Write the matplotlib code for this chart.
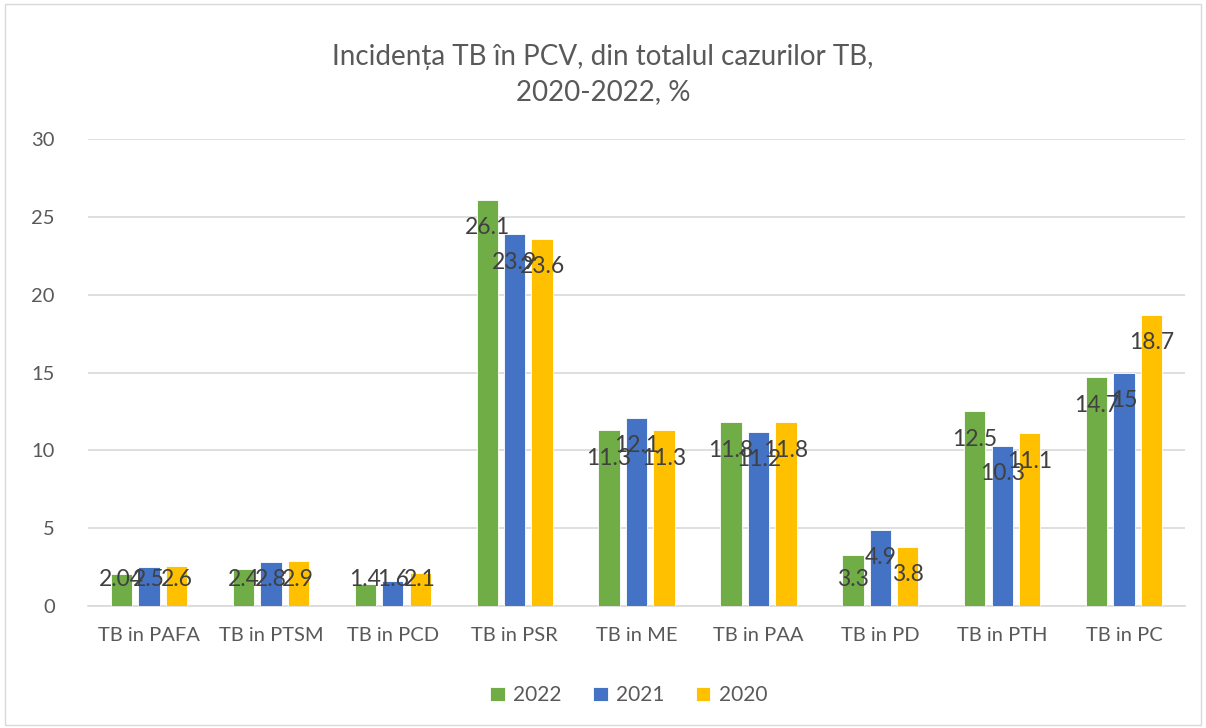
import matplotlib.pyplot as plt
import numpy as np
from matplotlib.patches import Rectangle

plt.rcParams['font.family'] = ['Lato', 'DejaVu Sans']

categories = ['TB in PAFA', 'TB in PTSM', 'TB in PCD', 'TB in PSR', 'TB in ME',
              'TB in PAA', 'TB in PD', 'TB in PTH', 'TB in PC']
years = ['2022', '2021', '2020']
v2022 = [2.04, 2.4, 1.4, 26.1, 11.3, 11.8, 3.3, 12.5, 14.7]
v2021 = [2.5, 2.8, 1.6, 23.9, 12.1, 11.2, 4.9, 10.3, 15]
v2020 = [2.6, 2.9, 2.1, 23.6, 11.3, 11.8, 3.8, 11.1, 18.7]
series = [v2022, v2021, v2020]
colors = ['#70AD47', '#4472C4', '#FFC000']

fig = plt.figure(figsize=(12.06, 7.28), dpi=100)
ax = fig.add_axes([0.073, 0.1676, 0.9096, 0.6414])

x = np.arange(len(categories))
w = 0.175
offsets = [-0.225, 0, 0.225]
for vals, col, off, yr in zip(series, colors, offsets, years):
    ax.bar(x + off, vals, width=w, color=col, label=yr, zorder=3,
           edgecolor='white', linewidth=0.6)
    # labels sit just inside the top of each bar, like Excel's inside-end
    for xi, v in zip(x, vals):
        ax.text(xi + off, max(v - 1.8, 1.7), f'{v:g}', ha='center', va='center',
                fontsize=16.5, color='#404040', zorder=4)

ax.set_ylim(0, 30)
ax.set_yticks(range(0, 31, 5))
ax.set_xlim(-0.5, len(categories) - 0.5)
ax.set_xticks(x)
ax.set_xticklabels(categories)
ax.tick_params(axis='both', length=0, labelsize=14.5, colors='#595959')
ax.tick_params(axis='x', pad=15)
ax.tick_params(axis='y', pad=24)
ax.grid(axis='y', color='#D9D9D9', linewidth=1.2, zorder=0)
for s in ['top', 'right', 'left']:
    ax.spines[s].set_visible(False)
ax.spines['bottom'].set_color('#D9D9D9')
ax.spines['bottom'].set_linewidth(1.2)

fig.suptitle('Incidența TB în PCV, din totalul cazurilor TB,\n2020-2022, %',
             y=0.94, fontsize=20, color='#595959', linespacing=1.45)

ax.legend(loc='upper center', bbox_to_anchor=(0.493, -0.13), ncol=3, frameon=False,
          fontsize=15, labelcolor='#595959', handlelength=0.7, handleheight=0.7,
          columnspacing=1.5, handletextpad=0.4)

fig.patches.append(Rectangle((0.004, 0.004), 0.992, 0.99, transform=fig.transFigure,
                             fill=False, edgecolor='#D9D9D9', linewidth=1))

fig.savefig('out.png', dpi=100)
